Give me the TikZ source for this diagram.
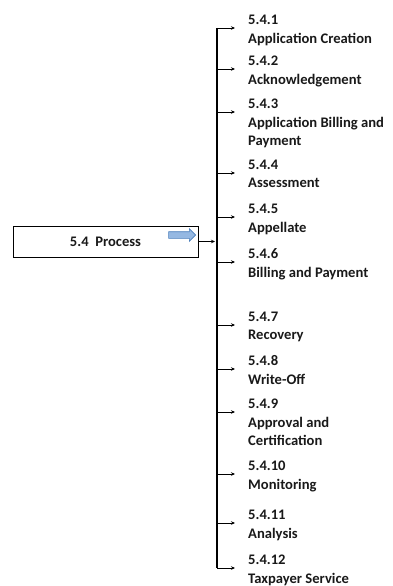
\documentclass[tikz,border=0pt]{standalone}
\usepackage{fontspec}
\setmainfont{Carlito}
\usetikzlibrary{shapes.arrows, arrows.meta, positioning}
\newcommand{\itemfont}{\fontsize{14.6pt}{18.5pt}\selectfont\bfseries}
\tikzstyle{itemnum} = [inner sep=0pt, text height=10pt, text depth=3pt,
  anchor=south west, font=\itemfont, text=black!90]
\tikzstyle{itemtitle} = [inner sep=0pt, align=left, font=\itemfont,
  text=black!90]
\tikzstyle{branch} = [line width=0.8pt, -{Stealth[length=4pt,width=3.5pt]},
  shorten >=13pt]
\tikzstyle{trunk} = [line width=1.2pt]
\tikzstyle{processbox} = [rectangle, draw=black, line width=0.9pt,
  minimum width=185pt, minimum height=31pt, font=\itemfont, text=black!90]
\tikzstyle{hint} = [single arrow, draw={rgb,255:red,74;green,126;blue,187},
  fill={rgb,255:red,149;green,184;blue,226}, line width=0.6pt,
  inner xsep=0pt, inner ysep=3pt, text height=0pt, text depth=0pt,
  minimum height=27pt, single arrow head extend=3pt]

\begin{document}
\begin{tikzpicture}[x=1pt, y=-1pt]
\useasboundingbox (0,0) rectangle (393,586);

%% nodes
\node (process) [processbox] at (105.5,241.5) {5.4\ \ Process};
\node (hint) [hint] at (180.5,235) {};
\coordinate (stem) at (217,0);

\node (n1) [itemnum] at (248,28) {5.4.1};
\node (t1) [itemtitle, below=5pt of n1.south west, anchor=north west]
      {Application Creation};
\node (n2) [itemnum] at (248,69) {5.4.2};
\node (t2) [itemtitle, below=5pt of n2.south west, anchor=north west]
      {Acknowledgement};
\node (n3) [itemnum] at (248,112) {5.4.3};
\node (t3) [itemtitle, below=5pt of n3.south west, anchor=north west]
      {Application Billing and\\Payment};
\node (n4) [itemnum] at (248,173) {5.4.4};
\node (t4) [itemtitle, below=5pt of n4.south west, anchor=north west]
      {Assessment};
\node (n5) [itemnum] at (248,217) {5.4.5};
\node (t5) [itemtitle, below=5pt of n5.south west, anchor=north west]
      {Appellate};
\node (n6) [itemnum] at (248,262) {5.4.6};
\node (t6) [itemtitle, below=5pt of n6.south west, anchor=north west]
      {Billing and Payment};
\node (n7) [itemnum] at (248,325) {5.4.7};
\node (t7) [itemtitle, below=5pt of n7.south west, anchor=north west]
      {Recovery};
\node (n8) [itemnum] at (248,369) {5.4.8};
\node (t8) [itemtitle, below=5pt of n8.south west, anchor=north west]
      {Write-Off};
\node (n9) [itemnum] at (248,412) {5.4.9};
\node (t9) [itemtitle, below=5pt of n9.south west, anchor=north west]
      {Approval and\\Certification};
\node (n10) [itemnum] at (248,474) {5.4.10};
\node (t10) [itemtitle, below=5pt of n10.south west, anchor=north west]
      {Monitoring};
\node (n11) [itemnum] at (248,523) {5.4.11};
\node (t11) [itemtitle, below=5pt of n11.south west, anchor=north west]
      {Analysis};
\node (n12) [itemnum] at (248,568) {5.4.12};
\node (t12) [itemtitle, below=5pt of n12.south west, anchor=north west]
      {Taxpayer Service};

%% paths
\draw [trunk] (n1.south west -| stem) -- (n12.south west -| stem);
\draw [branch, shorten >=2pt] (process.east) -- (process.east -| stem);
\draw [branch] (n1.south west -| stem) -- (n1.south west);
\draw [branch] (n2.south west -| stem) -- (n2.south west);
\draw [branch] (n3.south west -| stem) -- (n3.south west);
\draw [branch] (n4.south west -| stem) -- (n4.south west);
\draw [branch] (n5.south west -| stem) -- (n5.south west);
\draw [branch] (n6.south west -| stem) -- (n6.south west);
\draw [branch] (n7.south west -| stem) -- (n7.south west);
\draw [branch] (n8.south west -| stem) -- (n8.south west);
\draw [branch] (n9.south west -| stem) -- (n9.south west);
\draw [branch] (n10.south west -| stem) -- (n10.south west);
\draw [branch] (n11.south west -| stem) -- (n11.south west);
\draw [branch] (n12.south west -| stem) -- (n12.south west);

\end{tikzpicture}
\end{document}
